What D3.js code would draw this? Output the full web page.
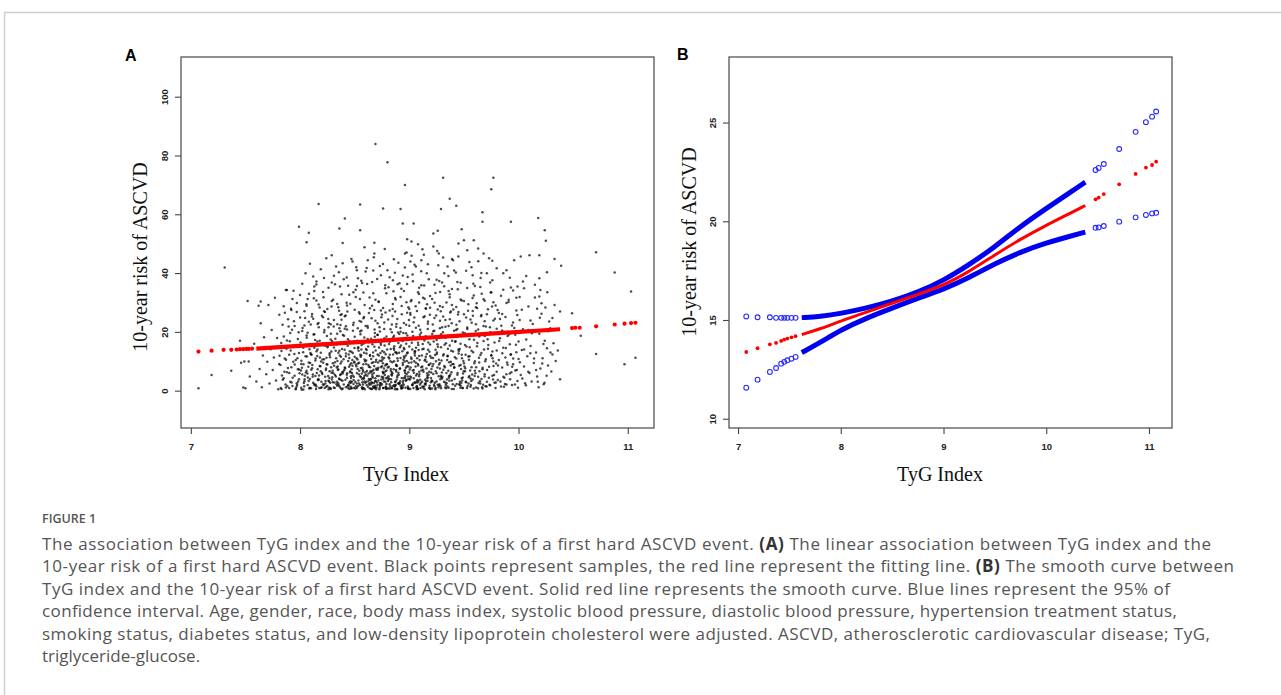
<!DOCTYPE html>
<html>
<head>
<meta charset="utf-8">
<script src="https://cdn.jsdelivr.net/npm/d3@7/dist/d3.min.js"></script>
<style>
  body { margin: 0; background: #fff; }
  svg { display: block; }
</style>
</head>
<body>
<script>
// ---- data ----
var xTicks = [7, 8, 9, 10, 11];
var yTicksA = [0, 20, 40, 60, 80, 100];
var yTicksB = [10, 15, 20, 25];

// panel A: samples (TyG index, 10-year risk)
var samplesA = [
  [8.69,83.9],[8.80,77.7],[8.96,70.0],[9.31,72.4],[9.77,72.4],[9.75,68.5],[9.37,65.3],[9.43,62.9],[9.29,61.8],[8.92,61.8],
  [8.76,62.0],[8.55,63.3],[8.17,63.5],[9.67,60.7],[9.67,57.5],[9.93,57.5],[10.18,58.7],[10.24,54.6],[10.25,51.0],[7.99,55.8],
  [8.08,53.7],[8.06,50.5],[8.41,58.6],[8.36,55.2],[8.39,50.2],[8.55,54.6],[8.59,48.8],[8.68,50.3],[8.94,56.9],[9.04,56.9],
  [8.98,51.5],[9.02,50.7],[9.08,49.8],[9.12,48.1],[9.22,53.5],[9.26,54.4],[9.48,54.9],[9.50,51.2],[9.59,51.2],[10.71,47.1],
  [10.88,40.2],[11.03,33.7],[11.07,11.2],[10.97,9.0],[10.71,12.5],[10.57,18.7],[10.49,26.3],[10.39,42.5],[10.33,44.8],[10.38,3.9],
  [10.30,6.5],[10.02,45.6],[10.10,46.1],[10.19,46.1],[7.31,41.9],[7.52,30.5],[7.19,5.3],[7.07,0.8],[7.37,6.8],[7.48,1.1],
  [7.50,0.8],[7.46,9.5],[7.49,9.9],[7.53,9.9],[7.45,17.0],[7.54,4.8],[7.64,30.3],[7.64,22.9],[7.71,29.1],[7.77,31.6],
  [7.87,34.2],[7.88,34.2],[7.94,34.0],[8.00,32.5],[8.05,39.9],[8.12,38.8],[8.13,35.4],[8.15,37.1],[8.24,45.0],[8.29,46.1],
  [8.33,42.2],[8.39,43.3],[8.48,43.9],[8.52,41.0],[8.60,40.5],[8.62,44.4],[8.68,46.7],[8.74,39.3],[8.80,41.0],[8.85,37.6],
  [8.91,36.5],[8.96,46.7],[9.01,43.9],[9.06,42.2],[9.11,44.4],[9.16,39.9],[9.22,49.0],[9.27,46.7],[9.32,39.9],[9.35,42.2],
  [9.40,44.4],[9.45,50.1],[9.53,47.8],[9.58,39.3],[9.63,48.4],[9.68,46.7],[9.73,45.0],[9.71,39.9],[9.76,37.6],[9.86,39.9],
  [9.89,41.0],[9.96,44.4],[9.99,35.4],[10.04,37.1],[10.05,34.8],[10.19,38.2],[10.20,34.2],[10.19,32.0],[10.33,29.1],[10.38,26.9],
  [10.29,21.2],
  [7.58,16.0],[7.60,3.1],[7.62,28.9],[7.63,7.4],[7.65,1.2],[7.66,12.0],[7.67,18.2],[7.69,5.6],[7.70,9.8],[7.72,2.4],
  [7.73,14.1],[7.74,20.6],[7.75,7.0],[7.76,11.3],[7.78,3.5],[7.79,17.9],[7.80,0.5],
  [7.81,25.8],[7.82,8.7],[7.83,0.6],[7.83,13.5],[7.84,22.4],[7.85,4.2],[7.85,28.7],[7.86,10.9],[7.87,1.1],[7.88,17.1],
  [7.88,6.3],[7.89,24.3],[7.90,0.9],[7.90,12.2],[7.91,3.0],[7.91,19.6],[7.92,27.4],[7.92,8.0],[7.93,1.6],[7.94,15.2],
  [7.95,5.1],[7.95,22.0],[7.96,0.7],[7.96,10.4],[7.97,29.8],[7.97,2.5],[7.98,17.6],[7.98,7.3],[7.99,12.8],[7.99,3.9],
  [8.00,24.9],
  [8.01,1.0],[8.01,9.1],[8.02,20.3],[8.02,5.5],[8.03,14.6],[8.03,0.4],[8.04,27.0],[8.04,3.2],[8.05,11.7],[8.06,6.8],
  [8.06,18.8],[8.07,1.9],[8.07,31.2],[8.08,9.6],[8.08,23.4],[8.09,4.0],[8.09,15.9],[8.10,0.8],[8.10,12.4],[8.11,26.1],
  [8.11,7.6],[8.12,2.7],[8.13,19.2],[8.14,5.0],[8.14,10.3],[8.15,1.4],[8.16,22.7],[8.16,14.0],[8.17,3.6],[8.17,29.3],
  [8.18,8.4],[8.18,17.0],[8.19,0.9],[8.19,12.9],[8.20,25.5],[8.20,6.1],
  [8.21,2.2],[8.21,33.6],[8.22,10.7],[8.22,19.9],[8.23,4.7],[8.23,15.3],[8.24,1.3],[8.25,8.9],[8.25,27.8],[8.26,3.4],
  [8.26,21.6],[8.27,12.1],[8.27,6.6],[8.28,0.6],[8.28,17.4],[8.29,30.5],[8.30,9.3],[8.30,2.9],[8.31,14.7],[8.31,24.0],
  [8.32,5.3],[8.32,36.2],[8.33,11.0],[8.34,1.7],[8.34,19.4],[8.35,7.2],[8.35,28.4],[8.36,3.9],[8.36,13.6],[8.37,22.3],
  [8.37,0.9],[8.38,9.9],[8.38,32.8],[8.39,5.8],[8.40,16.5],[8.40,2.1],
  [8.41,25.3],[8.41,7.9],[8.42,12.6],[8.42,1.2],[8.43,20.8],[8.43,4.4],[8.44,35.7],[8.44,10.1],[8.45,2.8],[8.45,16.9],
  [8.46,6.3],[8.46,29.6],[8.47,0.7],[8.47,13.2],[8.48,8.5],[8.49,23.1],[8.49,3.6],[8.50,11.5],[8.50,18.3],[8.51,1.5],
  [8.51,31.9],[8.52,6.0],[8.53,14.4],[8.53,9.2],[8.54,26.7],[8.54,2.4],[8.55,20.1],[8.55,4.9],[8.56,12.0],[8.56,37.4],
  [8.57,0.8],[8.57,7.7],[8.58,16.0],[8.58,24.6],[8.59,3.1],[8.59,10.6],[8.60,5.4],
  [8.61,13.8],[8.61,1.9],[8.62,21.4],[8.63,8.1],[8.63,4.0],[8.64,28.0],[8.64,11.9],[8.65,0.6],[8.65,17.7],[8.66,6.7],
  [8.66,2.7],[8.67,33.1],[8.67,9.7],[8.68,14.9],[8.69,3.3],[8.69,23.8],[8.70,7.1],[8.70,1.1],[8.71,12.3],[8.71,19.0],
  [8.72,5.0],[8.72,30.2],[8.73,10.2],[8.73,2.0],[8.74,15.6],[8.75,8.3],[8.75,25.9],[8.76,0.9],[8.76,4.6],[8.77,13.1],
  [8.77,21.0],[8.78,6.5],[8.78,35.9],[8.79,2.3],[8.79,9.0],[8.80,17.3],
  [8.81,3.8],[8.81,11.4],[8.82,27.3],[8.82,0.7],[8.83,7.4],[8.83,14.2],[8.84,22.5],[8.84,5.2],[8.85,1.6],[8.86,10.0],
  [8.86,18.7],[8.87,3.0],[8.87,31.5],[8.88,8.6],[8.88,13.0],[8.89,0.5],[8.89,24.4],[8.90,6.1],[8.90,16.2],[8.91,2.6],
  [8.92,11.1],[8.92,20.0],[8.93,4.3],[8.93,28.8],[8.94,9.4],[8.94,1.2],[8.95,14.5],[8.95,33.9],[8.96,6.9],[8.97,19.5],
  [8.97,3.4],[8.98,12.7],[8.98,26.5],[8.99,0.8],[8.99,8.2],[9.00,22.1],[9.00,15.0],
  [9.01,4.8],[9.02,10.8],[9.02,30.8],[9.03,1.9],[9.03,17.9],[9.04,7.0],[9.04,23.3],[9.05,13.4],[9.05,2.9],[9.06,9.5],
  [9.07,27.1],[9.07,5.7],[9.08,16.3],[9.08,0.6],[9.09,11.8],[9.09,35.0],[9.10,3.7],[9.10,20.7],[9.11,8.0],[9.12,14.1],
  [9.12,1.4],[9.13,25.0],[9.13,6.4],[9.14,10.3],[9.14,31.3],[9.15,2.5],[9.15,18.5],[9.16,12.5],[9.17,4.5],[9.17,22.8],
  [9.18,8.8],[9.18,0.9],[9.19,15.7],[9.19,28.2],[9.20,6.2],[9.20,11.2],
  [9.21,3.2],[9.21,19.3],[9.22,9.1],[9.23,24.7],[9.23,1.5],[9.24,13.9],[9.24,33.2],[9.25,5.9],[9.25,17.2],[9.26,2.0],
  [9.26,27.6],[9.27,10.5],[9.28,7.5],[9.28,21.2],[9.29,0.8],[9.29,14.8],[9.30,36.8],[9.30,4.1],[9.31,12.0],[9.31,25.2],
  [9.32,8.4],[9.33,2.8],[9.33,18.0],[9.34,30.0],[9.34,6.0],[9.35,11.7],[9.36,1.0],[9.36,22.0],[9.37,15.4],[9.37,4.9],
  [9.38,26.9],[9.38,9.8],[9.39,3.5],[9.39,34.6],[9.40,13.3],
  [9.41,7.8],[9.41,20.4],[9.42,1.7],[9.42,16.6],[9.43,28.5],[9.43,10.9],[9.44,5.4],[9.44,37.0],[9.45,14.0],[9.46,2.3],
  [9.46,23.6],[9.47,8.7],[9.47,31.0],[9.48,12.2],[9.48,4.2],[9.49,19.8],[9.49,0.9],[9.50,26.0],[9.50,9.3],[9.51,15.5],
  [9.51,6.6],[9.52,40.8],[9.52,2.9],[9.53,21.5],[9.54,11.6],[9.54,29.4],[9.55,5.0],[9.55,17.5],[9.56,1.3],[9.56,24.2],
  [9.57,8.0],[9.57,13.6],[9.58,3.8],[9.59,19.1],[9.59,32.4],[9.60,10.0],[9.60,6.8],
  [9.61,1.1],[9.61,22.6],[9.62,15.1],[9.62,28.1],[9.63,4.7],[9.64,9.6],[9.64,18.4],[9.65,2.4],[9.65,35.3],[9.66,12.8],
  [9.66,25.7],[9.67,7.3],[9.67,0.7],[9.68,16.9],[9.69,30.6],[9.69,5.6],[9.70,10.7],[9.70,21.8],[9.71,3.0],[9.72,14.3],
  [9.72,27.7],[9.73,8.1],[9.74,1.8],[9.74,19.7],[9.75,12.1],[9.75,33.5],[9.76,5.1],[9.77,23.9],[9.77,9.9],[9.78,2.7],
  [9.78,16.4],[9.79,29.0],[9.80,6.4],[9.80,13.7],[9.80,21.1],
  [9.81,3.6],[9.82,26.4],[9.82,10.4],[9.83,17.8],[9.84,1.4],[9.84,32.3],[9.85,7.9],[9.85,20.5],[9.86,14.6],[9.87,4.4],
  [9.88,11.3],[9.88,25.1],[9.89,2.1],[9.90,18.6],[9.90,8.8],[9.91,30.9],[9.92,5.8],[9.92,15.8],[9.93,12.4],[9.94,22.2],
  [9.94,1.9],[9.95,34.1],[9.95,9.0],[9.97,19.0],[9.97,6.9],[9.98,13.1],[9.98,27.3],[9.99,3.3],[10.00,10.8],[10.00,16.7],
  [10.01,24.0],[10.02,5.3],[10.03,13.8],[10.04,20.9],[10.05,8.2],[10.06,2.5],[10.07,17.4],[10.08,11.7],[10.09,28.6],[10.10,6.0],
  [10.11,15.2],[10.12,3.1],[10.13,22.7],[10.14,9.4],[10.15,31.7],[10.16,13.0],[10.17,4.8],[10.19,19.4],[10.20,7.5],[10.21,26.2],
  [10.22,11.0],[10.23,2.2],[10.24,17.0],[10.26,14.4],[10.27,8.6],[10.28,23.5],[10.31,12.3],[10.32,16.1],[10.34,10.1],[10.36,13.7],
  // denser core
  [7.834,5.2],[7.812,11.9],[7.867,2.1],[7.851,18.4],[7.889,7.7],[7.823,0.9],[7.876,14.3],[7.842,3.7],[7.895,21.8],[7.808,9.1],
  [7.861,26.5],[7.884,1.6],[7.828,16.2],[7.857,6.4],[7.871,10.5],
  [7.932,4.4],[7.913,13.7],[7.968,1.3],[7.951,8.9],[7.987,19.9],[7.922,2.8],[7.976,11.0],[7.944,23.6],[7.995,5.9],[7.906,16.8],
  [7.961,0.5],[7.938,9.8],[7.982,3.1],[7.917,27.9],[7.954,14.9],[7.991,7.2],[7.926,20.7],[7.973,1.9],[7.948,12.5],[7.901,6.0],
  [8.034,2.6],[8.012,10.2],[8.067,5.8],[8.051,15.6],[8.089,1.0],[8.023,21.3],[8.076,8.1],[8.042,3.9],[8.095,12.8],[8.008,6.9],
  [8.061,18.0],[8.084,0.7],[8.028,13.1],[8.057,29.4],[8.071,4.5],[8.017,7.8],[8.046,24.7],[8.092,9.4],[8.038,1.5],[8.063,11.6],
  [8.005,16.4],[8.079,3.3],[8.053,6.2],[8.098,22.5],[8.031,9.0],[8.086,14.1],[8.015,0.3],[8.069,19.7],[8.044,5.1],[8.082,33.0],
  [8.134,1.8],[8.112,8.7],[8.167,4.0],[8.151,13.4],[8.189,6.6],[8.123,19.1],[8.176,0.9],[8.142,10.9],[8.195,3.0],[8.108,25.2],
  [8.161,7.3],[8.184,15.8],[8.128,2.3],[8.157,11.8],[8.171,21.6],[8.117,5.5],[8.146,0.6],[8.192,9.9],[8.138,17.2],[8.163,3.6],
  [8.105,12.2],[8.179,28.3],[8.153,6.0],[8.198,1.2],[8.131,14.6],[8.186,8.3],[8.115,4.7],[8.169,23.0],[8.144,2.0],[8.182,11.3],
  [8.126,31.4],[8.158,16.7],[8.103,7.1],[8.174,5.2],[8.149,36.1],
  [8.234,3.3],[8.212,9.5],[8.267,1.1],[8.251,14.8],[8.289,6.1],[8.223,20.6],[8.276,2.7],[8.242,11.2],[8.295,4.6],[8.208,16.1],
  [8.261,0.5],[8.284,8.0],[8.228,26.8],[8.257,5.0],[8.271,12.7],[8.217,1.9],[8.246,18.6],[8.292,3.8],[8.238,7.5],[8.263,22.9],
  [8.205,10.6],[8.279,0.8],[8.253,15.2],[8.298,6.8],[8.231,2.4],[8.286,13.3],[8.215,31.8],[8.269,4.3],[8.244,9.0],[8.282,19.4],
  [8.226,0.9],[8.258,24.4],[8.203,5.7],[8.274,11.4],[8.249,1.6],[8.293,16.9],[8.236,7.0],[8.265,3.1],[8.219,38.3],[8.288,28.6],
  [8.334,2.2],[8.312,8.5],[8.367,5.3],[8.351,12.9],[8.389,0.7],[8.323,17.7],[8.376,3.6],[8.342,10.1],[8.395,6.5],[8.308,21.8],
  [8.361,1.4],[8.384,14.2],[8.328,4.8],[8.357,27.2],[8.371,9.2],[8.317,0.9],[8.346,7.1],[8.392,18.9],[8.338,3.0],[8.363,12.0],
  [8.305,5.9],[8.379,24.1],[8.353,1.9],[8.398,10.7],[8.331,15.7],[8.386,6.3],[8.315,2.8],[8.369,20.2],[8.344,8.2],[8.382,0.5],
  [8.326,13.6],[8.358,4.1],[8.303,30.9],[8.374,11.5],[8.349,2.5],[8.391,16.3],[8.336,7.9],[8.365,35.4],[8.319,9.7],[8.388,3.4],
  [8.341,22.6],[8.372,5.6],[8.309,1.1],[8.355,40.3],[8.381,26.0],
  [8.434,1.5],[8.412,7.6],[8.467,4.3],[8.451,11.1],[8.489,2.3],[8.423,16.0],[8.476,6.0],[8.442,0.8],[8.495,9.6],[8.408,13.9],
  [8.461,3.2],[8.484,20.4],[8.428,5.4],[8.457,8.8],[8.471,1.0],[8.417,25.6],[8.446,12.3],[8.492,4.7],[8.438,17.5],[8.463,2.6],
  [8.405,7.0],[8.479,10.4],[8.453,0.6],[8.498,14.5],[8.431,5.9],[8.486,22.3],[8.415,3.7],[8.469,9.3],[8.444,1.8],[8.482,12.8],
  [8.426,29.9],[8.458,6.5],[8.403,18.7],[8.474,3.0],[8.449,8.1],[8.493,0.9],[8.436,15.3],[8.465,4.9],[8.419,11.7],[8.488,33.5],
  [8.441,2.0],[8.472,7.3],[8.409,21.1],[8.455,13.4],[8.481,5.2],[8.427,38.5],[8.462,1.3],[8.497,9.8],[8.433,26.9],[8.478,16.6],
  [8.534,3.5],[8.512,8.9],[8.567,1.2],[8.551,12.2],[8.589,5.0],[8.523,17.0],[8.576,2.1],[8.542,6.8],[8.595,10.0],[8.508,0.7],
  [8.561,14.0],[8.584,4.1],[8.528,21.2],[8.557,7.7],[8.571,2.9],[8.517,11.0],[8.546,26.2],[8.592,0.5],[8.538,5.6],[8.563,15.5],
  [8.505,3.0],[8.579,9.0],[8.553,19.2],[8.598,6.2],[8.531,1.6],[8.586,12.9],[8.515,8.3],[8.569,3.9],[8.544,23.7],[8.582,0.9],
  [8.526,10.6],[8.558,4.6],[8.503,16.8],[8.574,7.0],[8.549,1.9],[8.591,29.1],[8.536,13.6],[8.565,5.8],[8.519,2.4],[8.588,18.1],
  [8.541,9.5],[8.572,0.6],[8.509,34.3],[8.555,11.5],[8.581,4.3],[8.527,7.4],[8.562,20.5],[8.597,2.7],[8.533,14.8],[8.578,6.5],
  [8.514,42.0],[8.548,31.2],[8.585,25.1],[8.521,1.0],[8.568,36.6],
  [8.634,2.0],[8.612,6.7],[8.667,1.0],[8.651,10.8],[8.689,4.2],[8.623,15.0],[8.676,2.6],[8.642,8.0],[8.695,0.5],[8.608,12.6],
  [8.661,5.5],[8.684,18.3],[8.628,3.4],[8.657,9.4],[8.671,1.5],[8.617,22.0],[8.646,6.2],[8.692,13.7],[8.638,0.8],[8.663,4.8],
  [8.605,10.3],[8.679,27.4],[8.653,2.9],[8.698,7.5],[8.631,16.5],[8.686,1.2],[8.615,5.1],[8.669,11.7],[8.644,3.7],[8.682,20.8],
  [8.626,8.7],[8.658,0.6],[8.603,14.2],[8.674,6.0],[8.649,2.2],[8.693,9.8],[8.636,31.7],[8.665,4.4],[8.619,17.6],[8.688,1.7],
  [8.641,12.1],[8.672,7.1],[8.609,3.0],[8.655,24.6],[8.681,0.9],[8.627,5.8],[8.662,15.8],[8.697,10.5],[8.633,2.5],[8.678,8.4],
  [8.614,36.3],[8.648,4.0],[8.685,19.6],[8.621,1.3],[8.668,13.0],[8.645,6.6],[8.691,3.2],[8.606,9.1],[8.659,28.9],[8.675,45.4],
  [8.734,1.6],[8.712,7.2],[8.767,3.1],[8.751,11.4],[8.789,0.6],[8.723,14.7],[8.776,5.3],[8.742,2.4],[8.795,9.0],[8.708,18.9],
  [8.761,4.0],[8.784,12.4],[8.728,1.0],[8.757,6.4],[8.771,23.2],[8.717,3.5],[8.746,10.1],[8.792,0.8],[8.738,16.2],[8.763,5.9],
  [8.705,2.8],[8.779,8.6],[8.753,13.5],[8.798,4.5],[8.731,20.1],[8.786,1.4],[8.715,7.8],[8.769,11.1],[8.744,3.8],[8.782,26.6],
  [8.726,0.5],[8.758,9.3],[8.703,5.0],[8.774,15.4],[8.749,2.1],[8.791,6.9],[8.736,12.8],[8.765,0.9],[8.719,30.3],[8.788,4.2],
  [8.741,8.0],[8.772,17.8],[8.709,1.9],[8.755,10.6],[8.781,3.0],[8.727,21.6],[8.762,6.1],[8.797,14.0],[8.733,2.6],[8.778,34.8],
  [8.714,9.6],[8.748,4.7],[8.785,1.1],[8.721,12.0],[8.768,7.5],[8.745,25.0],[8.791,18.4],[8.706,38.0],[8.759,43.1],[8.775,48.2],
  [8.834,2.9],[8.812,8.1],[8.867,1.3],[8.851,12.3],[8.889,4.6],[8.823,16.6],[8.876,2.0],[8.842,6.2],[8.895,10.2],[8.808,0.7],
  [8.861,13.9],[8.884,3.7],[8.828,20.9],[8.857,7.3],[8.871,1.7],[8.817,10.9],[8.846,25.4],[8.892,5.2],[8.838,0.9],[8.863,15.1],
  [8.805,3.3],[8.879,8.8],[8.853,18.2],[8.898,2.4],[8.831,6.7],[8.886,12.6],[8.815,4.1],[8.869,0.5],[8.844,9.7],[8.882,22.7],
  [8.826,1.5],[8.858,14.4],[8.803,7.9],[8.874,3.0],[8.849,29.5],[8.891,11.0],[8.836,5.5],[8.865,17.3],[8.819,2.2],[8.888,8.4],
  [8.841,0.8],[8.872,13.1],[8.809,4.9],[8.855,33.8],[8.881,6.5],[8.827,10.0],[8.862,1.9],[8.897,19.8],[8.833,3.9],[8.878,7.0],
  [8.814,15.9],[8.848,27.8],[8.885,0.6],[8.821,12.2],[8.868,40.1],[8.845,5.8],[8.893,36.2],[8.806,24.2],[8.859,44.7],[8.875,31.0],
  [8.934,1.8],[8.912,7.4],[8.967,3.6],[8.951,11.6],[8.989,0.9],[8.923,15.4],[8.976,5.7],[8.942,2.7],[8.995,9.5],[8.908,19.3],
  [8.961,4.4],[8.984,13.0],[8.928,1.1],[8.957,6.8],[8.971,22.4],[8.917,3.2],[8.946,10.5],[8.992,0.6],[8.938,16.9],[8.963,5.0],
  [8.905,2.5],[8.979,8.3],[8.953,14.1],[8.998,4.0],[8.931,26.0],[8.986,1.4],[8.915,7.6],[8.969,12.0],[8.944,3.4],[8.982,18.8],
  [8.926,0.7],[8.958,9.9],[8.903,5.4],[8.974,30.1],[8.949,2.0],[8.991,6.3],[8.936,13.4],[8.965,1.0],[8.919,21.3],[8.988,4.8],
  [8.941,8.7],[8.972,16.0],[8.909,2.3],[8.955,11.2],[8.981,3.8],[8.927,34.7],[8.962,6.0],[8.997,24.0],[8.933,0.8],[8.978,10.1],
  [8.914,14.8],[8.948,4.3],[8.985,38.7],[8.921,1.6],[8.968,7.8],[8.945,19.6],[8.991,28.4],[8.906,12.9],[8.959,41.9],[8.975,47.0],
  [9.034,2.4],[9.012,7.9],[9.067,1.0],[9.051,12.0],[9.089,4.9],[9.023,16.3],[9.076,2.8],[9.042,6.1],[9.095,10.4],[9.008,0.6],
  [9.061,14.6],[9.084,3.3],[9.028,20.0],[9.057,8.2],[9.071,1.6],[9.017,11.3],[9.046,24.9],[9.092,5.6],[9.038,0.9],[9.063,17.6],
  [9.005,3.8],[9.079,9.1],[9.053,13.3],[9.098,2.1],[9.031,6.9],[9.086,22.1],[9.015,4.5],[9.069,0.5],[9.044,10.0],[9.082,15.5],
  [9.026,1.9],[9.058,28.7],[9.003,7.2],[9.074,3.6],[9.049,12.7],[9.091,6.4],[9.036,18.6],[9.065,1.3],[9.019,9.6],[9.088,32.9],
  [9.041,4.2],[9.072,11.0],[9.009,26.4],[9.055,2.6],[9.081,8.6],[9.027,14.0],[9.062,5.2],[9.097,19.0],[9.033,37.2],[9.078,0.7],
  [9.014,30.4],[9.048,42.8],[9.085,13.8],[9.021,45.9],[9.068,3.0],
  [9.134,1.4],[9.112,6.9],[9.167,3.4],[9.151,11.5],[9.189,0.8],[9.123,15.9],[9.176,5.4],[9.142,2.3],[9.195,9.2],[9.108,19.7],
  [9.161,4.2],[9.184,13.2],[9.128,1.0],[9.157,7.5],[9.171,23.5],[9.117,3.0],[9.146,10.6],[9.192,0.6],[9.138,17.1],[9.163,5.9],
  [9.105,2.6],[9.179,8.7],[9.153,27.9],[9.198,4.3],[9.131,14.3],[9.186,1.7],[9.115,12.0],[9.169,21.0],[9.144,3.7],[9.182,6.4],
  [9.126,31.6],[9.158,9.8],[9.103,0.9],[9.174,16.4],[9.149,2.0],[9.191,11.8],[9.136,35.8],[9.165,5.1],[9.119,8.2],[9.188,25.8],
  [9.141,0.5],[9.172,13.9],[9.109,40.6],[9.155,3.2],[9.181,18.2],[9.127,7.1],[9.162,29.4],[9.197,2.9],[9.133,46.2],[9.178,37.9],
  [9.234,2.7],[9.212,8.3],[9.267,1.2],[9.251,12.5],[9.289,5.1],[9.223,16.7],[9.276,2.2],[9.242,6.6],[9.295,10.3],[9.208,0.7],
  [9.261,14.9],[9.284,3.9],[9.228,20.4],[9.257,7.9],[9.271,1.8],[9.217,11.1],[9.246,25.6],[9.292,4.6],[9.238,0.5],[9.263,18.1],
  [9.205,3.5],[9.279,9.4],[9.253,13.0],[9.298,6.2],[9.231,29.9],[9.286,1.5],[9.215,22.5],[9.269,4.9],[9.244,10.0],[9.282,33.6],
  [9.226,2.0],[9.258,15.8],[9.203,7.4],[9.274,37.3],[9.249,3.1],[9.291,19.2],[9.236,12.1],[9.265,42.7],[9.219,5.7],[9.288,27.0],
  [9.241,0.9],[9.272,8.9],[9.209,31.2],[9.255,47.5],[9.281,23.8],
  [9.334,1.9],[9.312,7.1],[9.367,3.4],[9.351,11.9],[9.389,0.6],[9.323,15.6],[9.376,5.5],[9.342,2.5],[9.395,9.1],[9.308,19.9],
  [9.361,4.3],[9.384,13.6],[9.328,1.1],[9.357,6.8],[9.371,24.3],[9.317,3.0],[9.346,10.4],[9.392,17.0],[9.338,0.8],[9.363,5.0],
  [9.305,28.5],[9.379,8.6],[9.353,14.3],[9.398,2.2],[9.331,21.7],[9.386,6.3],[9.315,12.4],[9.369,32.8],[9.344,3.8],[9.382,18.6],
  [9.326,8.0],[9.358,39.0],[9.303,4.7],[9.374,26.6],[9.349,1.4],[9.391,44.8],[9.336,16.1],[9.365,9.7],[9.319,35.5],[9.388,22.9],
  [9.434,2.3],[9.412,8.0],[9.467,1.0],[9.451,12.6],[9.489,4.5],[9.423,16.8],[9.476,2.7],[9.442,6.0],[9.495,10.1],[9.408,0.6],
  [9.461,14.2],[9.484,3.5],[9.428,20.6],[9.457,8.5],[9.471,1.7],[9.417,11.4],[9.446,25.9],[9.492,5.8],[9.438,18.3],[9.463,3.0],
  [9.405,9.0],[9.479,30.7],[9.453,13.5],[9.498,6.6],[9.431,22.4],[9.486,0.9],[9.415,4.0],[9.469,16.0],[9.444,34.5],[9.482,11.0],
  [9.426,40.2],[9.458,2.0],[9.403,27.6],[9.474,7.4],[9.449,45.6],
  [9.534,1.6],[9.512,7.6],[9.567,3.3],[9.551,11.7],[9.589,0.7],[9.523,15.0],[9.576,5.5],[9.542,2.4],[9.595,9.3],[9.508,19.5],
  [9.561,4.1],[9.584,13.1],[9.528,0.9],[9.557,6.9],[9.571,23.1],[9.517,3.0],[9.546,10.5],[9.592,17.3],[9.538,27.2],[9.563,1.9],
  [9.505,8.2],[9.579,31.5],[9.553,14.8],[9.598,5.0],[9.531,21.0],[9.586,36.4],[9.515,12.2],[9.569,42.0],[9.544,4.6],[9.582,25.5],
  [9.634,2.6],[9.612,8.0],[9.667,1.2],[9.651,12.1],[9.689,4.8],[9.623,16.2],[9.676,2.0],[9.642,6.6],[9.695,10.0],[9.608,20.3],
  [9.661,4.0],[9.684,14.0],[9.628,0.8],[9.657,25.3],[9.671,7.8],[9.617,29.7],[9.646,3.2],[9.692,18.6],[9.638,11.2],[9.663,33.0],
  [9.605,5.9],[9.679,22.0],[9.653,38.3],[9.698,1.5],[9.631,44.0],
  [9.734,2.0],[9.712,7.0],[9.767,3.8],[9.751,11.9],[9.789,0.9],[9.723,15.5],[9.776,5.3],[9.742,19.8],[9.795,9.2],[9.708,1.4],
  [9.761,13.3],[9.784,24.5],[9.728,4.4],[9.757,28.6],[9.771,8.4],[9.717,17.5],[9.746,33.4],[9.792,2.8],[9.738,21.6],[9.763,11.0],
  [9.834,3.1],[9.812,8.6],[9.867,1.3],[9.851,12.7],[9.889,5.6],[9.823,16.9],[9.876,2.3],[9.842,22.1],[9.895,9.6],[9.808,27.4],
  [9.861,4.7],[9.884,14.5],[9.934,6.3],[9.912,19.1],[9.967,2.1],[9.951,10.9],[9.989,25.7],[9.923,3.9],[9.976,15.6],[9.942,8.1],
  [9.995,1.0],[9.908,30.2],[9.961,21.3],[9.984,7.0],[9.928,12.2],
  [10.034,4.1],[10.012,9.7],[10.067,1.8],[10.051,14.0],[10.089,6.4],[10.123,19.5],[10.176,3.0],[10.142,10.9],[10.195,24.8],[10.108,12.7],
  [10.161,7.0],[10.184,1.2],[10.228,15.9],[10.257,5.1],[10.271,20.2],[10.217,9.2],[10.246,28.3],[10.292,13.0],[10.238,2.7],[10.263,33.5],
  // middle band, 20-45
  [7.93,31.2],[7.97,26.8],[8.02,36.4],[8.06,28.9],[8.09,43.2],[8.12,24.5],[8.15,30.7],[8.19,41.3],[8.22,27.0],[8.26,35.0],
  [8.28,22.6],[8.31,39.1],[8.34,29.5],[8.37,25.7],[8.40,37.9],[8.42,21.9],[8.45,32.6],[8.47,44.8],[8.50,27.5],[8.53,38.2],
  [8.56,23.4],[8.58,33.4],[8.61,41.7],[8.63,26.4],[8.66,37.0],[8.69,30.9],[8.71,22.9],[8.73,42.4],[8.76,28.1],[8.79,33.1],
  [8.82,38.6],[8.84,19.9],[8.87,26.9],[8.90,43.5],[8.92,31.9],[8.95,23.0],[8.98,36.3],[9.00,27.8],[9.03,39.5],[9.06,21.4],
  [9.09,30.0],[9.11,35.9],[9.14,25.3],[9.17,43.0],[9.19,32.2],[9.22,20.2],[9.25,37.7],[9.28,28.8],[9.31,45.3],[9.33,24.0],
  [9.36,33.9],[9.39,29.1],[9.41,40.9],[9.44,21.0],[9.47,36.7],[9.50,30.5],[9.52,24.9],[9.55,43.8],[9.58,27.1],[9.60,35.6],
  [9.63,20.8],[9.66,40.0],[9.68,31.1],[9.71,26.0],[9.74,36.8],[9.77,30.1],[9.80,41.6],[9.83,24.4],[9.86,34.3],[9.89,29.8],
  [9.92,38.4],[9.95,23.2],[9.98,31.6],[10.03,27.5],[10.07,39.0],[10.11,23.9],[10.15,36.0],[10.21,29.7],[10.26,40.3],[10.31,24.7],
  [8.04,22.2],[8.13,33.9],[8.21,25.0],[8.29,36.8],[8.36,21.2],[8.43,29.0],[8.52,35.6],[8.60,22.0],[8.67,40.9],[8.74,27.3],
  [8.81,35.2],[8.88,21.7],[8.94,39.2],[9.01,25.8],[9.08,33.5],[9.15,28.0],[9.23,36.0],[9.30,21.6],[9.37,31.8],[9.45,26.8],
  [9.53,34.9],[9.61,28.4],[9.69,23.6],[9.76,44.2],[9.85,26.1],[9.93,35.1],[10.01,31.9],[10.09,20.6],[10.17,27.9]
];

// panel A: fitted line (dense part) and isolated fitted values
var fitLineA = [[7.60,14.3],[10.38,20.9]];
var fitDotsA = [
  [7.07,13.3],[7.19,13.6],[7.30,13.9],[7.37,13.9],[7.42,14.0],[7.45,14.1],[7.48,14.1],[7.51,14.2],[7.53,14.2],[7.56,14.3],
  [10.49,21.3],[10.52,21.4],[10.56,21.4],[10.71,21.9],[10.88,22.5],[10.97,22.8],[11.03,23.0],[11.07,23.1]
];

// panel B: smooth curve with 95% CI, dense part (x, upper, fit, lower)
var curveX     = [7.62, 7.80, 8.00, 8.25, 8.50, 8.75, 9.00, 9.25, 9.50, 9.75, 10.00, 10.20, 10.38];
var curveUpper = [15.12,15.18,15.33,15.60,15.95,16.40,17.00,17.80,18.70,19.75,20.65,21.35,21.98];
var curveFit   = [14.26,14.55,14.95,15.40,15.85,16.30,16.75,17.45,18.30,19.10,19.80,20.32,20.80];
var curveLower = [13.35,13.85,14.50,15.10,15.60,16.10,16.55,17.15,17.85,18.45,18.90,19.20,19.45];

// panel B: isolated samples at the tails
var tailX     = [7.08, 7.19, 7.31, 7.37, 7.42, 7.45, 7.48, 7.52, 7.56, 10.48, 10.51, 10.56, 10.71, 10.87, 10.97, 11.03, 11.07];
var tailUpper = [15.18,15.14,15.14,15.11,15.11,15.11,15.11,15.11,15.11, 22.60, 22.70, 22.90, 23.66, 24.53, 25.02, 25.30, 25.56];
var tailFit   = [13.38,13.57,13.77,13.84,13.94,14.01,14.06,14.12,14.18, 21.11, 21.20, 21.38, 21.87, 22.40, 22.72, 22.85, 23.02];
var tailLower = [11.57,11.98,12.37,12.57,12.79,12.88,12.96,13.04,13.13, 19.67, 19.69, 19.76, 19.98, 20.20, 20.32, 20.40, 20.43];

var captionLines = [
  [["The association between TyG index and the 10-year risk of a first hard ASCVD event. ", false], ["(A)", true], [" The linear association between TyG index and the", false]],
  [["10-year risk of a first hard ASCVD event. Black points represent samples, the red line represent the fitting line. ", false], ["(B)", true], [" The smooth curve between", false]],
  [["TyG index and the 10-year risk of a first hard ASCVD event. Solid red line represents the smooth curve. Blue lines represent the 95% of", false]],
  [["confidence interval. Age, gender, race, body mass index, systolic blood pressure, diastolic blood pressure, hypertension treatment status,", false]],
  [["smoking status, diabetes status, and low-density lipoprotein cholesterol were adjusted. ASCVD, atherosclerotic cardiovascular disease; TyG,", false]],
  [["triglyceride-glucose.", false]]
];
var captionEnds = [1211, 1234, 1170, 1177, 1210, null];

// ---- drawing ----
var svgwidth = 1281, svgheight = 695;

var svg = d3.select('body').append('svg')
    .attr('width', svgwidth)
    .attr('height', svgheight);

// card border (top and left)
svg.append('path')
    .attr('d', 'M4.5,' + svgheight + ' V12.5 H' + svgwidth)
    .attr('fill', 'none')
    .attr('stroke', '#cfcfcf')
    .attr('stroke-width', 1.5);

function panel(opts) {
    var g = svg.append('g');
    var x = d3.scaleLinear().domain(opts.xdomain).range([opts.left, opts.right]);
    var y = d3.scaleLinear().domain(opts.ydomain).range([opts.bottom, opts.top]);

    // x axis
    var xg = g.append('g')
        .attr('transform', 'translate(0,' + opts.bottom + ')')
        .call(d3.axisBottom(x).tickValues(xTicks).tickSize(6).tickFormat(d3.format('d')));
    xg.select('.domain').remove();
    xg.selectAll('line').attr('stroke', '#444').attr('stroke-width', 1.1);
    xg.selectAll('text')
        .attr('y', 22).attr('dy', 0)
        .attr('fill', '#222')
        .attr('font-family', 'Liberation Sans, Arial, sans-serif')
        .attr('font-weight', 'bold')
        .attr('font-size', '9.5px');

    // y axis
    var yg = g.append('g')
        .attr('transform', 'translate(' + opts.left + ',0)')
        .call(d3.axisLeft(y).tickValues(opts.yticks).tickSize(6));
    yg.select('.domain').remove();
    yg.selectAll('line').attr('stroke', '#444').attr('stroke-width', 1.1);
    yg.selectAll('text')
        .attr('transform', 'rotate(-90)')
        .attr('x', 0).attr('y', -13).attr('dy', 0)
        .attr('text-anchor', 'middle')
        .attr('fill', '#222')
        .attr('font-family', 'Liberation Sans, Arial, sans-serif')
        .attr('font-weight', 'bold')
        .attr('font-size', '9.5px');

    // box
    g.append('rect')
        .attr('x', opts.left).attr('y', opts.top)
        .attr('width', opts.right - opts.left)
        .attr('height', opts.bottom - opts.top)
        .attr('fill', 'none')
        .attr('stroke', '#555')
        .attr('stroke-width', 1.3);

    // axis titles
    g.append('text')
        .attr('x', opts.xtitle[0]).attr('y', opts.xtitle[1])
        .attr('text-anchor', 'middle')
        .attr('font-family', 'Liberation Serif, Times New Roman, serif')
        .attr('font-size', '20px')
        .attr('fill', '#111')
        .text('TyG Index');
    g.append('text')
        .attr('transform', 'translate(' + opts.ytitle[0] + ',' + opts.ytitle[1] + ') rotate(-90)')
        .attr('text-anchor', 'middle')
        .attr('dy', '0.33em')
        .attr('font-family', 'Liberation Serif, Times New Roman, serif')
        .attr('font-size', '20px')
        .attr('fill', '#111')
        .text('10-year risk of ASCVD');

    // panel letter
    g.append('text')
        .attr('x', opts.letter[0]).attr('y', opts.letter[1])
        .attr('font-family', 'Liberation Sans, Arial, sans-serif')
        .attr('font-weight', 'bold')
        .attr('font-size', '16px')
        .attr('fill', '#000')
        .text(opts.name);

    return { g: g, x: x, y: y };
}

// ---- panel A ----
var A = panel({
    name: 'A', left: 181, right: 654, top: 57, bottom: 428,
    xdomain: [6.91, 11.24], ydomain: [-12.7, 113.5], yticks: yTicksA,
    xtitle: [406, 481], ytitle: [140, 257], letter: [125, 61]
});

A.g.append('g').selectAll('circle')
    .data(samplesA)
    .enter().append('circle')
    .attr('cx', function (d) { return A.x(d[0]); })
    .attr('cy', function (d) { return A.y(d[1]); })
    .attr('r', 1.25)
    .attr('fill', '#000')
    .attr('opacity', 0.7);

A.g.append('path')
    .datum(fitLineA)
    .attr('d', d3.line().x(function (d) { return A.x(d[0]); }).y(function (d) { return A.y(d[1]); }))
    .attr('fill', 'none')
    .attr('stroke', '#f00')
    .attr('stroke-width', 4.2);

A.g.append('g').selectAll('circle')
    .data(fitDotsA)
    .enter().append('circle')
    .attr('cx', function (d) { return A.x(d[0]); })
    .attr('cy', function (d) { return A.y(d[1]); })
    .attr('r', 2.1)
    .attr('fill', '#f00');

// ---- panel B ----
var B = panel({
    name: 'B', left: 729, right: 1172, top: 57, bottom: 428,
    xdomain: [6.912, 11.224], ydomain: [9.53, 28.32], yticks: yTicksB,
    xtitle: [940, 481], ytitle: [689, 242], letter: [677, 60]
});

function bandLine(ys) {
    return d3.line()
        .x(function (d, i) { return B.x(curveX[i]); })
        .y(function (d) { return B.y(d); })
        .curve(d3.curveBasis)(ys);
}

[curveUpper, curveLower].forEach(function (ys) {
    B.g.append('path')
        .attr('d', bandLine(ys))
        .attr('fill', 'none')
        .attr('stroke', '#0000f0')
        .attr('stroke-width', 5);
});
B.g.append('path')
    .attr('d', bandLine(curveFit))
    .attr('fill', 'none')
    .attr('stroke', '#f00')
    .attr('stroke-width', 3);

[tailUpper, tailLower].forEach(function (ys) {
    B.g.append('g').selectAll('circle')
        .data(ys)
        .enter().append('circle')
        .attr('cx', function (d, i) { return B.x(tailX[i]); })
        .attr('cy', function (d) { return B.y(d); })
        .attr('r', 2.4)
        .attr('fill', 'none')
        .attr('stroke', '#2a2aff')
        .attr('stroke-width', 1.1);
});
B.g.append('g').selectAll('circle')
    .data(tailFit)
    .enter().append('circle')
    .attr('cx', function (d, i) { return B.x(tailX[i]); })
    .attr('cy', function (d) { return B.y(d); })
    .attr('r', 1.9)
    .attr('fill', '#f00');

// ---- caption ----
svg.append('text')
    .attr('x', 42).attr('y', 523)
    .attr('font-family', 'Open Sans, sans-serif')
    .attr('font-size', '12.5px')
    .attr('font-weight', 600)
    .attr('fill', '#555')
    .text('FIGURE 1');

captionLines.forEach(function (parts, i) {
    var t = svg.append('text')
        .attr('x', 42).attr('y', 550 + i * 22.4)
        .attr('font-family', 'Open Sans, sans-serif')
        .attr('font-size', '17px')
        .attr('fill', '#555');
    parts.forEach(function (p) {
        t.append('tspan')
            .attr('font-weight', p[1] ? 'bold' : null)
            .attr('fill', p[1] ? '#333' : null)
            .text(p[0]);
    });
    if (captionEnds[i]) t.attr('textLength', captionEnds[i] - 42).attr('lengthAdjust', 'spacing');
});
</script>
</body>
</html>
